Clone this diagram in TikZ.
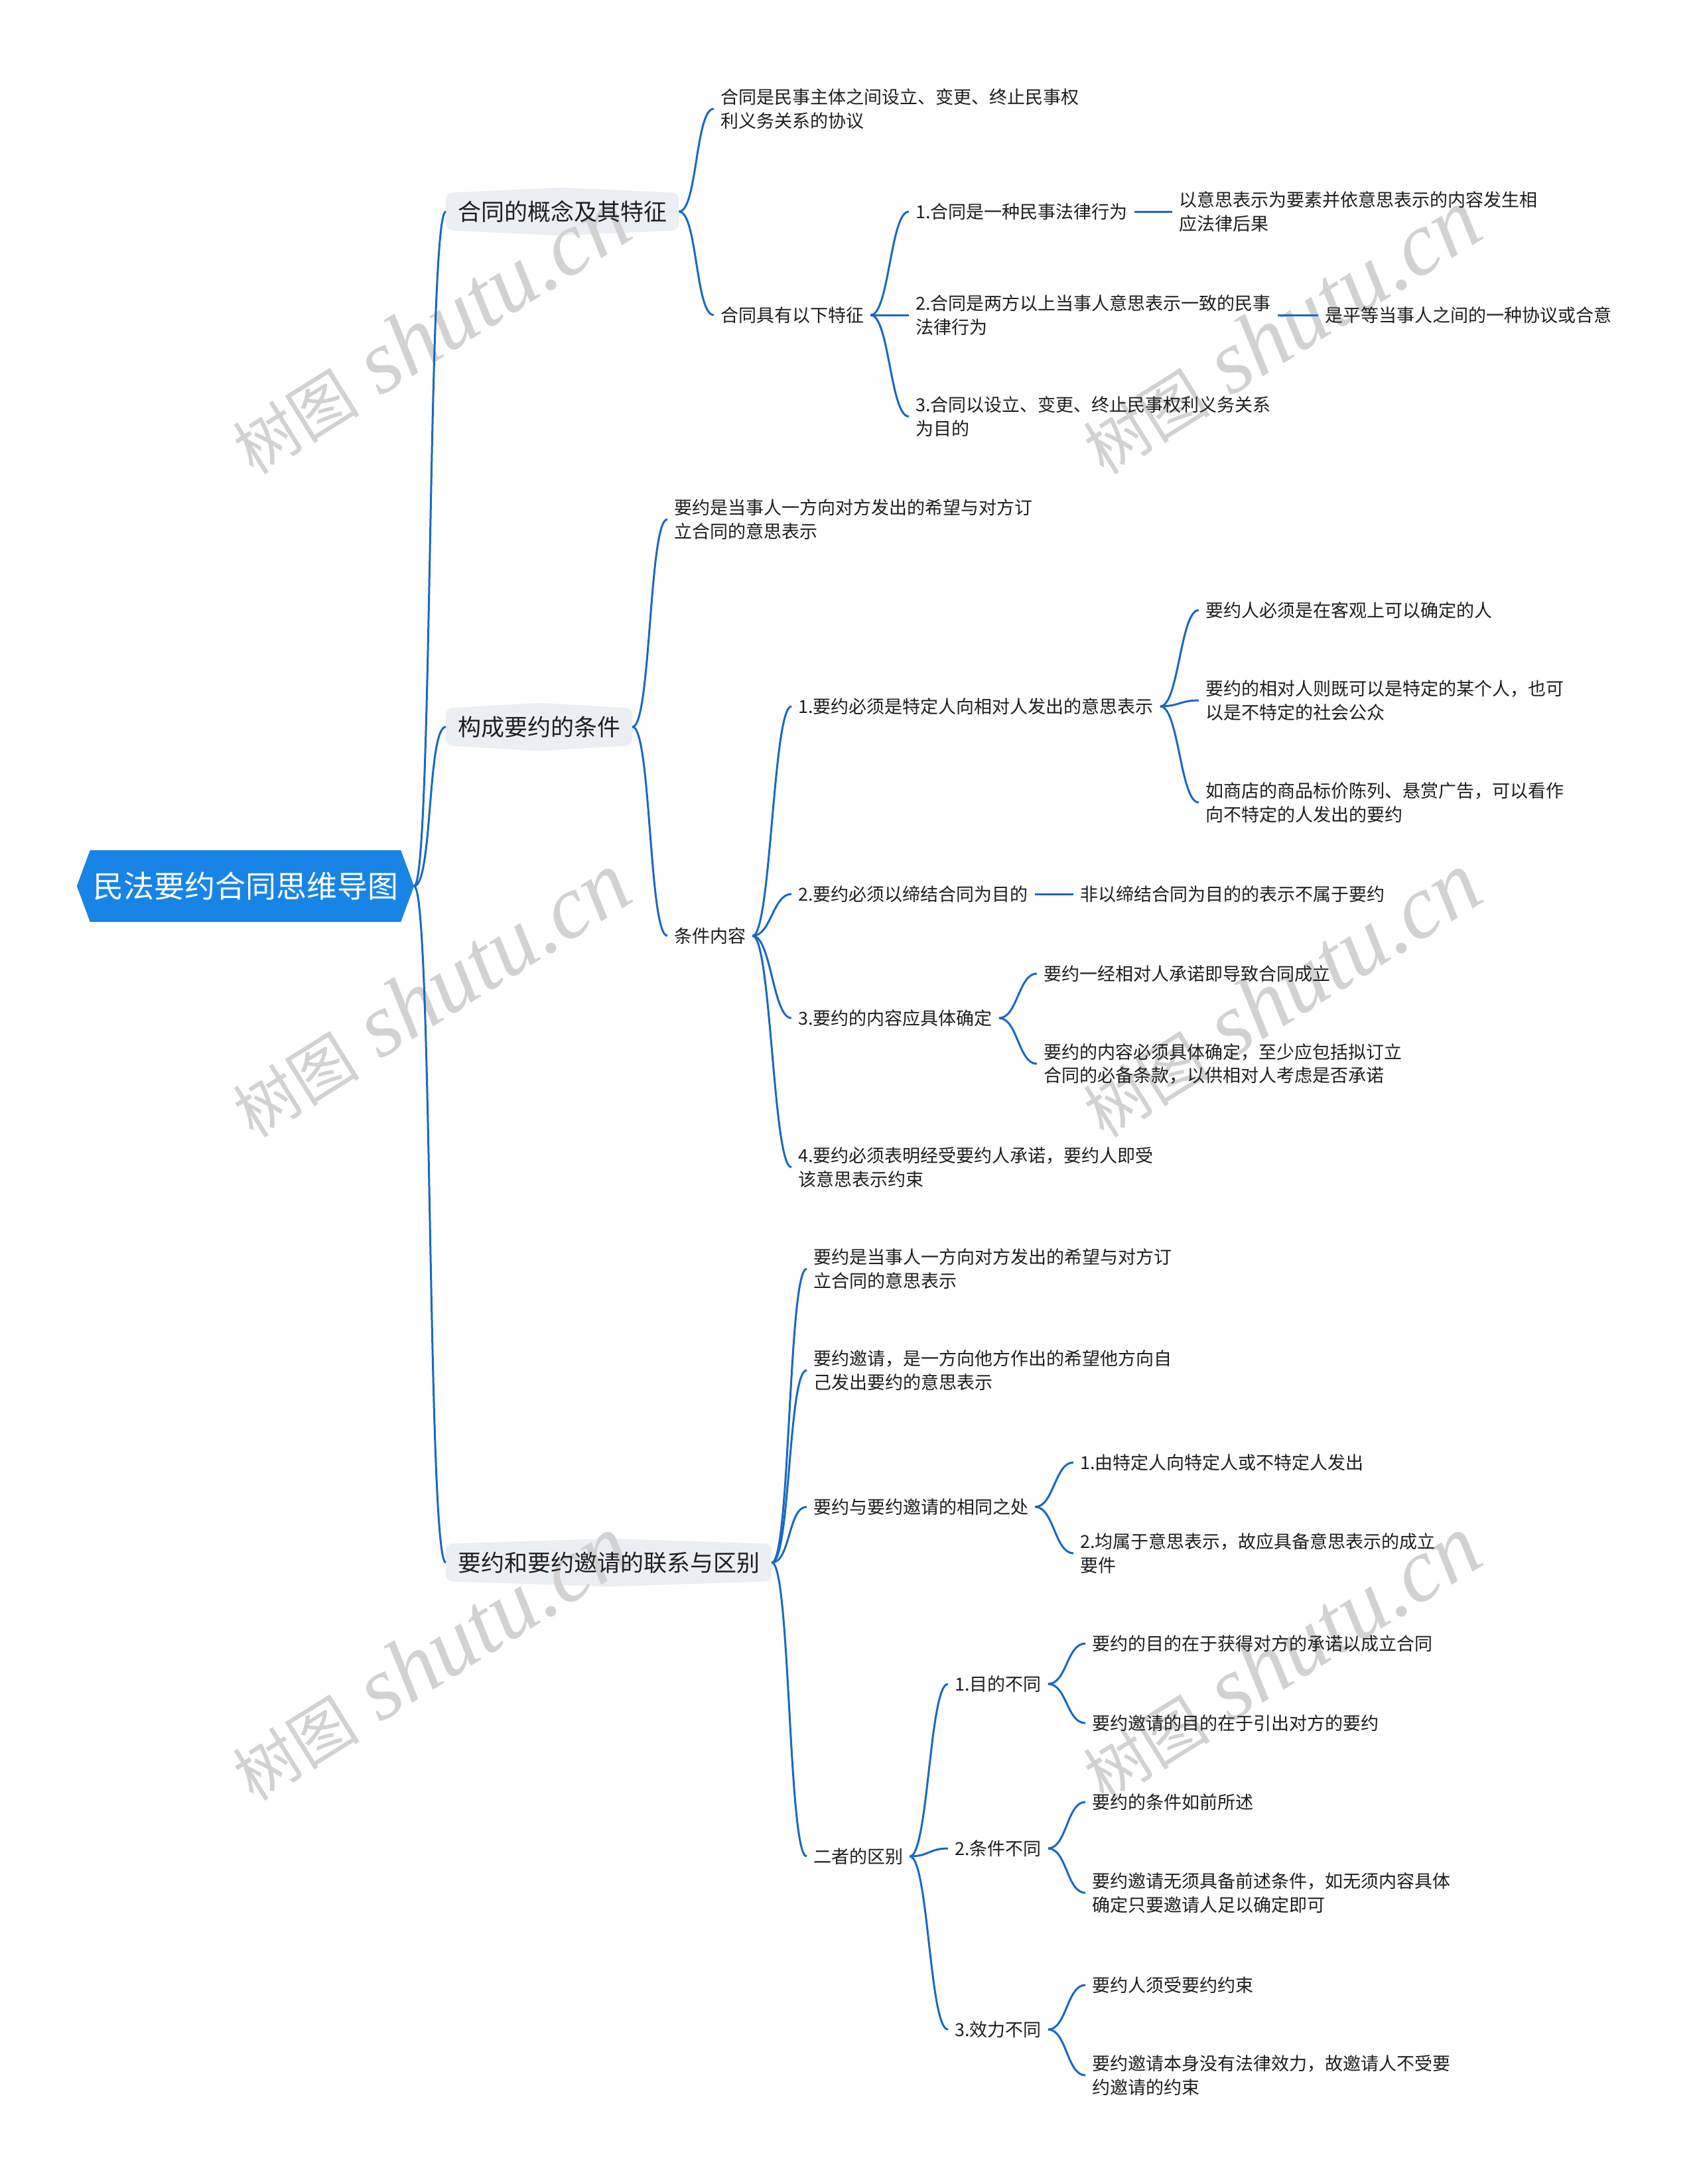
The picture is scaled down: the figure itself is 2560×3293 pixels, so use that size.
\documentclass[tikz,border=0pt]{standalone}
\usepackage{fontspec}
\setmainfont{Noto Sans CJK SC}
\newfontfamily\wmserif{Liberation Serif}
\newfontfamily\cjk{Noto Sans CJK SC}
\usetikzlibrary{calc,backgrounds}
\definecolor{linec}{RGB}{25,104,196}
\definecolor{rootc}{RGB}{24,132,230}
\definecolor{lonec}{RGB}{235,239,243}
\definecolor{txt}{RGB}{30,30,30}
\definecolor{wmc}{RGB}{210,210,210}
\tikzset{
 leaf/.style={anchor=west, align=left, inner xsep=10pt, inner ysep=4pt, text=txt, font=\fontsize{27}{35.5}\selectfont},
 lone/.style={anchor=west, inner xsep=18pt, inner ysep=0pt, minimum height=56pt, text=txt, font=\fontsize{35}{42}\selectfont},
 rootn/.style={minimum width=508pt, minimum height=108pt, text=white, font=\fontsize{46}{55}\selectfont, inner sep=0pt},
 edge/.style={draw=linec, line width=3pt},
 curv/.style={to path={.. controls ($(\tikztostart)+(#1,0)$) and ($(\tikztotarget)+(-#1,0)$) .. (\tikztotarget)}},
 curv/.default=28,
 wm/.style={text=wmc, rotate=32, inner sep=0pt}
}
\newcommand\lonebox[1]{\fill[lonec, rounded corners=10pt] (#1.south west) -- (#1.north west) -- ([yshift=8pt]#1.north) -- (#1.north east) -- (#1.south east) -- ([yshift=-8pt]#1.south) -- cycle;}
\newcommand\wmtext{{\cjk\fontsize{96}{100}\selectfont 树图}\hspace{32pt}{\wmserif\itshape\fontsize{136}{140}\selectfont shutu.cn}}
\begin{document}
\begin{tikzpicture}[x=1pt, y=-1pt]
\useasboundingbox (0,0) rectangle (2560,3293);
% root and level 1
\node[rootn] (root) at (370,1336) {民法要约合同思维导图};
\node[lone] (A1) at (672,319) {合同的概念及其特征};
\node[lone] (A2) at (672,1096) {构成要约的条件};
\node[lone] (A3) at (672,2356) {要约和要约邀请的联系与区别};
% branch 1
\node[leaf] (B1) at (1076,164) {合同是民事主体之间设立、变更、终止民事权\\利义务关系的协议};
\node[leaf] (B2) at (1076,475) {合同具有以下特征};
\node[leaf] (C1) at (1370,319) {1.合同是一种民事法律行为};
\node[leaf] (D1) at (1767,319) {以意思表示为要素并依意思表示的内容发生相\\应法律后果};
\node[leaf] (C2) at (1370,475) {2.合同是两方以上当事人意思表示一致的民事\\法律行为};
\node[leaf] (D2) at (1987,475) {是平等当事人之间的一种协议或合意};
\node[leaf] (C3) at (1370,628) {3.合同以设立、变更、终止民事权利义务关系\\为目的};
% branch 2
\node[leaf] (B3) at (1006,783) {要约是当事人一方向对方发出的希望与对方订\\立合同的意思表示};
\node[leaf] (B4) at (1006,1411) {条件内容};
\node[leaf] (C4) at (1193,1065) {1.要约必须是特定人向相对人发出的意思表示};
\node[leaf] (D4a) at (1807,920) {要约人必须是在客观上可以确定的人};
\node[leaf] (D4b) at (1807,1056) {要约的相对人则既可以是特定的某个人，也可\\以是不特定的社会公众};
\node[leaf] (D4c) at (1807,1210) {如商店的商品标价陈列、悬赏广告，可以看作\\向不特定的人发出的要约};
\node[leaf] (C5) at (1193,1348) {2.要约必须以缔结合同为目的};
\node[leaf] (D5) at (1618,1348) {非以缔结合同为目的的表示不属于要约};
\node[leaf] (C6) at (1193,1535) {3.要约的内容应具体确定};
\node[leaf] (D6a) at (1563,1468) {要约一经相对人承诺即导致合同成立};
\node[leaf] (D6b) at (1563,1604) {要约的内容必须具体确定，至少应包括拟订立\\合同的必备条款，以供相对人考虑是否承诺};
\node[leaf] (C7) at (1193,1760) {4.要约必须表明经受要约人承诺，要约人即受\\该意思表示约束};
% branch 3
\node[leaf] (B5) at (1216,1913) {要约是当事人一方向对方发出的希望与对方订\\立合同的意思表示};
\node[leaf] (B6) at (1216,2066) {要约邀请，是一方向他方作出的希望他方向自\\己发出要约的意思表示};
\node[leaf] (B7) at (1216,2272) {要约与要约邀请的相同之处};
\node[leaf] (C8) at (1618,2205) {1.由特定人向特定人或不特定人发出};
\node[leaf] (C9) at (1618,2342) {2.均属于意思表示，故应具备意思表示的成立\\要件};
\node[leaf] (B8) at (1216,2799) {二者的区别};
\node[leaf] (C10) at (1429,2539) {1.目的不同};
\node[leaf] (D10a) at (1636,2478) {要约的目的在于获得对方的承诺以成立合同};
\node[leaf] (D10b) at (1636,2598) {要约邀请的目的在于引出对方的要约};
\node[leaf] (C11) at (1429,2787) {2.条件不同};
\node[leaf] (D11a) at (1636,2717) {要约的条件如前所述};
\node[leaf] (D11b) at (1636,2854) {要约邀请无须具备前述条件，如无须内容具体\\确定只要邀请人足以确定即可};
\node[leaf] (C12) at (1429,3060) {3.效力不同};
\node[leaf] (D12a) at (1636,2993) {要约人须受要约约束};
\node[leaf] (D12b) at (1636,3129) {要约邀请本身没有法律效力，故邀请人不受要\\约邀请的约束};
% connectors
\foreach \p/\c in {root/A1,root/A2,root/A3,
  A1/B1,A1/B2,B2/C1,B2/C2,B2/C3,C1/D1,C2/D2,
  A2/B3,A2/B4,B4/C4,B4/C5,B4/C6,B4/C7,C4/D4a,C4/D4b,C4/D4c,C5/D5,C6/D6a,C6/D6b,
  A3/B5,A3/B6,A3/B7,A3/B8,B7/C8,B7/C9,B8/C10,B8/C11,B8/C12,C10/D10a,C10/D10b,C11/D11a,C11/D11b,C12/D12a,C12/D12b}
  \draw[edge] (\p.east) to[curv] (\c.west);
% backgrounds
\begin{scope}[on background layer]
\fill[white] (0,0) rectangle (2560,3293);
\fill[rootc] (root.west) -- ([xshift=20pt]root.north west) -- ([xshift=-20pt]root.north east) -- (root.east) -- ([xshift=-20pt]root.south east) -- ([xshift=20pt]root.south west) -- cycle;
\lonebox{A1}
\lonebox{A2}
\lonebox{A3}
\foreach \wx in {648,1930}
  \foreach \wy in {500,1500,2500}
    \node[wm] (wm-\wx-\wy) at (\wx,\wy) {\wmtext};
\end{scope}
\end{tikzpicture}
\end{document}
